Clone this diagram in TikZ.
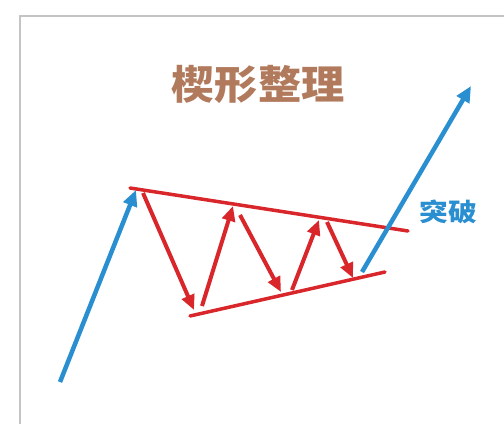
\documentclass[tikz,border=0pt]{standalone}
\usepackage{fontspec}
\newfontfamily\cjk{Noto Sans CJK SC}
\usetikzlibrary{arrows.meta}
\definecolor{titlebrown}{HTML}{B27A5C}
\definecolor{trendblue}{HTML}{2A8FD0}
\definecolor{wedgered}{HTML}{D8262B}
\definecolor{framegray}{HTML}{C4C4C4}
\tikzset{
  bluearrow/.style={draw=trendblue, line width=4.5pt, -{Triangle[length=16pt,width=14pt]}},
  redarrow/.style={draw=wedgered, line width=4pt, -{Triangle[length=15pt,width=13pt]}},
  redline/.style={draw=wedgered, line width=3.5pt, line cap=round},
}
\begin{document}
\begin{tikzpicture}[x=1pt,y=-1pt]
\useasboundingbox[fill=white] (0,0) rectangle (504,424);
\draw[framegray, line width=1.5pt] (20,424) -- (20,16) -- (504,16);
% coordinates
\coordinate (b1s) at (60,382);
\coordinate (b1e) at (136,190);
\coordinate (b2s) at (362,272);
\coordinate (b2e) at (471,86);
\coordinate (tl) at (130,188);
\coordinate (tr) at (408,231);
\coordinate (bl) at (190,316);
\coordinate (br) at (385,272);
\coordinate (r1s) at (143,193);
\coordinate (r1e) at (194,310);
\coordinate (r2s) at (202,306);
\coordinate (r2e) at (233,206);
\coordinate (r3s) at (240,215);
\coordinate (r3e) at (281,292);
\coordinate (r4s) at (292,290);
\coordinate (r4e) at (319,220);
\coordinate (r5s) at (327,222);
\coordinate (r5e) at (353,278);
% title and label
\node[font=\cjk\bfseries\fontsize{40}{40}\selectfont, text=titlebrown, xscale=1.08] (title) at (258,84) {楔形整理};
\node[font=\cjk\bfseries\fontsize{25}{25}\selectfont, text=trendblue, xscale=1.15] (brk) at (448,212) {突破};
% wedge lines
\draw[redline] (tl) -- (tr);
\draw[redline] (bl) -- (br);
% red arrows
\draw[redarrow] (r1s) -- (r1e);
\draw[redarrow] (r2s) -- (r2e);
\draw[redarrow] (r3s) -- (r3e);
\draw[redarrow] (r4s) -- (r4e);
\draw[redarrow] (r5s) -- (r5e);
% blue arrows
\draw[bluearrow] (b1s) -- (b1e);
\draw[bluearrow] (b2s) -- (b2e);
\end{tikzpicture}
\end{document}
